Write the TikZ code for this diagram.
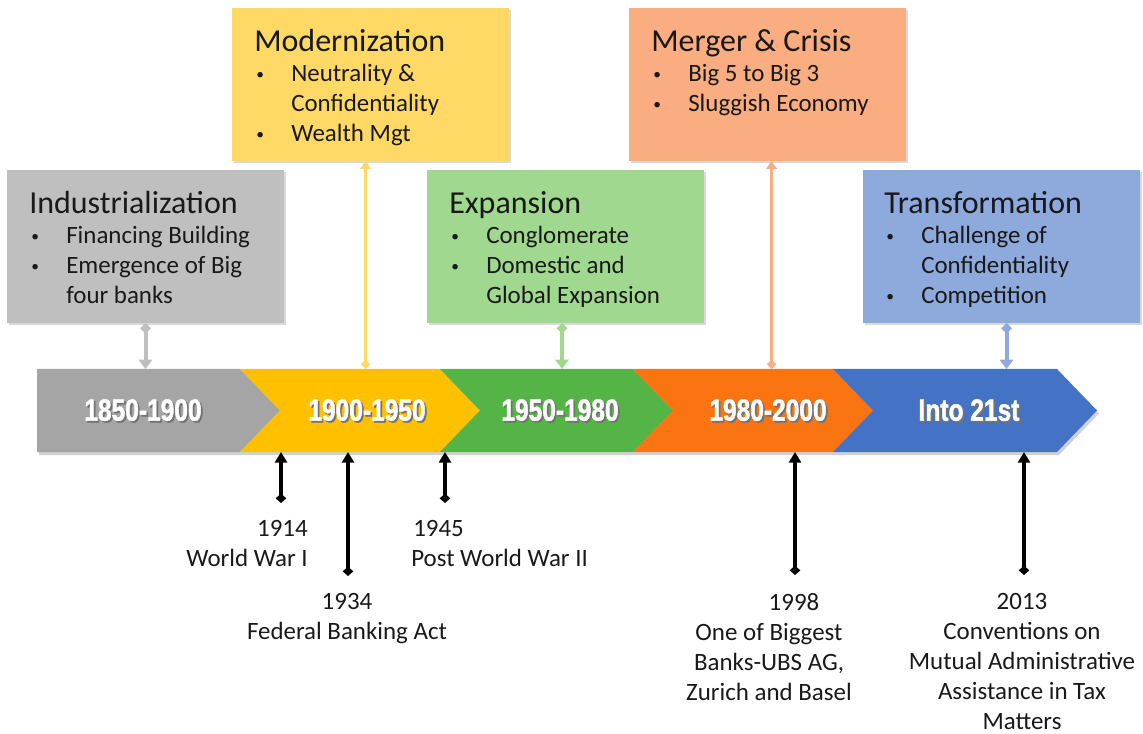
\documentclass[tikz,border=0pt]{standalone}
\usepackage{fontspec}
\setmainfont{Carlito}
\newfontfamily\bandfont{Liberation Sans}[FakeStretch=0.8, FakeBold=1.4]
\usetikzlibrary{arrows.meta, calc, positioning, shadows}

\definecolor{bandgray}{HTML}{A5A5A5}
\definecolor{bandyel}{HTML}{FFC000}
\definecolor{bandgrn}{HTML}{54B546}
\definecolor{bandorg}{HTML}{FA7412}
\definecolor{bandblu}{HTML}{4472C4}
\definecolor{boxgray}{HTML}{BFBFBF}
\definecolor{boxyel}{HTML}{FFD966}
\definecolor{boxgrn}{HTML}{A0D890}
\definecolor{boxorg}{HTML}{F9AD80}
\definecolor{boxblu}{HTML}{8EA9DB}

\newcommand{\bul}{\makebox[27.75pt][l]{\hspace{1.5pt}\raisebox{1.6pt}{\scalebox{0.62}{\textbullet}}}}
\newcommand{\cont}{\hspace*{27.75pt}}
\newcommand{\shadowed}[1]{\makebox[0pt][l]{\hspace{1.3pt}\raisebox{-1.3pt}{\textcolor{black!55}{#1}}}#1}

\begin{document}
\begin{tikzpicture}[x=0.75pt, y=-0.75pt,
  box/.style={rectangle, inner sep=0pt, outer sep=0pt, minimum width=207.75pt,
    minimum height=114.75pt, anchor=north west,
    drop shadow={shadow xshift=1.5pt, shadow yshift=-1.5pt, opacity=.3}},
  boxtext/.style={anchor=north west, inner sep=0pt, align=left, text=black!90,
    font=\fontsize{18.7}{22.5}\selectfont},
  period/.style={text=white, font=\bandfont\bfseries\fontsize{23}{23}\selectfont},
  down/.style={line width=3pt, {Diamond[length=8pt,width=8pt]}-{Triangle[length=7pt,width=10pt]}},
  up/.style={line width=2pt, {Diamond[length=7pt,width=7pt]}-{Triangle[length=6pt,width=8pt]}},
  event/.style={line width=3pt, black, {Diamond[length=7pt,width=8pt]}-{Triangle[length=8pt,width=9pt]}},
  evtext/.style={inner sep=0pt, text=black!90, font=\fontsize{18.7}{22.5}\selectfont}]
\useasboundingbox (0,0) rectangle (1143,734);

% timeline band
\coordinate (bandtop) at (0,369);
\coordinate (bandbot) at (0,452);
\fill[black, opacity=.18] (39,372) -- (1059,372) -- (1099,413.5) -- (1059,455) -- (39,455) -- cycle;
\fill[bandgray] (37,369) -- (240,369) -- (280,410.5) -- (240,452) -- (37,452) -- cycle;
\foreach \a/\b/\c in {240/440/bandyel, 440/633/bandgrn, 633/833/bandorg, 833/1057/bandblu}
  \fill[\c] (\a,369) -- (\b,369) -- (\b+40,410.5) -- (\b,452) -- (\a,452) -- (\a+40,410.5) -- cycle;

\node[period] (p1) at (143,411) {\shadowed{1850-1900}};
\node[period] (p2) at (367,411) {\shadowed{1900-1950}};
\node[period] (p3) at (560,411) {\shadowed{1950-1980}};
\node[period] (p4) at (768,411) {\shadowed{1980-2000}};
\node[period] (p5) at (969,411) {\shadowed{Into 21st}};

% era boxes
\node[box, fill=boxgray] (ind) at (7,170) {};
\node[box, fill=boxyel] (mod) at (232,8) {};
\node[box, fill=boxgrn] (exp) at (427,170) {};
\node[box, fill=boxorg] (mrg) at (629,8) {};
\node[box, fill=boxblu] (trn) at (863,170) {};

\node[boxtext] (indT) at ([xshift=16.5pt,yshift=-15.75pt]ind.north west)
  {{\fontsize{24}{22.5}\selectfont Industrialization}\\
   \bul Financing Building\\ \bul Emergence of Big\\ \cont four banks};
\node[boxtext] (modT) at ([xshift=16.5pt,yshift=-15.75pt]mod.north west)
  {{\fontsize{24}{22.5}\selectfont Modernization}\\
   \bul Neutrality \&\\ \cont Confidentiality\\ \bul Wealth Mgt};
\node[boxtext] (expT) at ([xshift=16.5pt,yshift=-15.75pt]exp.north west)
  {{\fontsize{24}{22.5}\selectfont Expansion}\\
   \bul Conglomerate\\ \bul Domestic and\\ \cont Global Expansion};
\node[boxtext] (mrgT) at ([xshift=16.5pt,yshift=-15.75pt]mrg.north west)
  {{\fontsize{24}{22.5}\selectfont Merger \& Crisis}\\
   \bul Big 5 to Big 3\\ \bul Sluggish Economy};
\node[boxtext] (trnT) at ([xshift=15.75pt,yshift=-15.75pt]trn.north west)
  {{\fontsize{24}{22.5}\selectfont Transformation}\\
   \bul Challenge of\\ \cont Confidentiality\\ \bul Competition};

% links between boxes and band
\draw[down, boxgray] (ind.south) -- (ind.south |- bandtop);
\draw[up, boxyel] ([xshift=-3.75pt]mod.south |- bandtop) -- ([xshift=-3.75pt]mod.south);
\draw[down, boxgrn] ([xshift=-2.6pt]exp.south) -- ([xshift=-2.6pt]exp.south |- bandtop);
\draw[up, boxorg] ([xshift=3pt]mrg.south |- bandtop) -- ([xshift=3pt]mrg.south);
\draw[down, boxblu] ([xshift=3.75pt]trn.south) -- ([xshift=3.75pt]trn.south |- bandtop);

% events below the band
\coordinate (w1914) at (281,503);
\coordinate (w1934) at (348,576);
\coordinate (w1945) at (445,503);
\coordinate (w1998) at (795,575);
\coordinate (w2013) at (1024,575);
\foreach \e in {w1914, w1934, w1945, w1998, w2013}
  \draw[event] (\e) -- (\e |- bandbot);

\node[evtext, anchor=north east, align=right] (t1914) at (308,520) {1914\\World War I};
\node[evtext, anchor=north, align=center] (t1934) at (347,593) {1934\\Federal Banking Act};
\node[evtext, anchor=north west, align=left] (t1945) at (411,520) {\hspace*{1.5pt}1945\\Post World War II};
\node[evtext, anchor=north, align=center] (t1998) at (769,593)
  {\hspace*{37.5pt}1998\\One of Biggest\\Banks-UBS AG,\\Zurich and Basel};
\node[evtext, anchor=north, align=center] (t2013) at (1022,593)
  {2013\\Conventions on\\Mutual Administrative\\Assistance in Tax\\Matters};
\end{tikzpicture}
\end{document}
